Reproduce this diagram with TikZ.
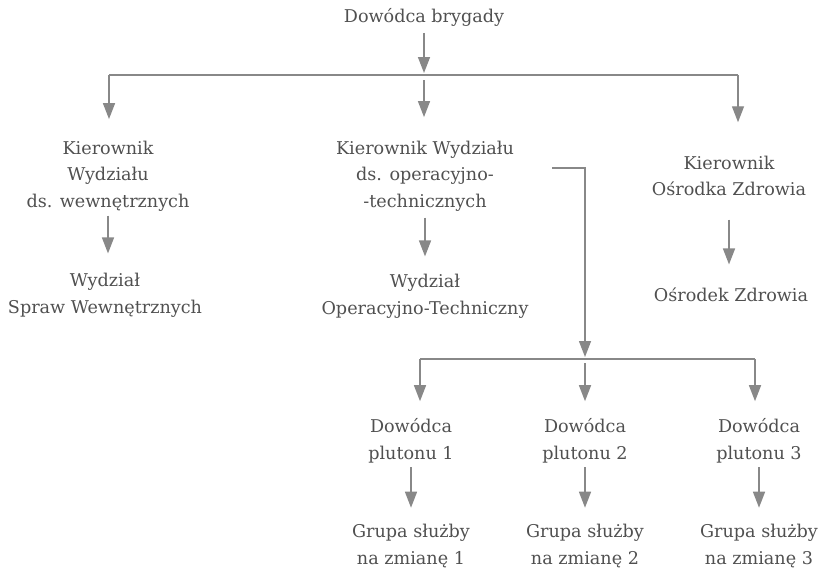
\documentclass[tikz,border=0pt]{standalone}
\usepackage{fontspec}
\setmainfont{DejaVu Serif}
\usetikzlibrary{positioning, arrows.meta}
\definecolor{orgText}{HTML}{505050}
\definecolor{orgLine}{HTML}{888888}

\begin{document}
\begin{tikzpicture}[x=0.75pt, y=-0.75pt,
  unit/.style={align=center, text=orgText, inner sep=0pt, font=\fontsize{13.2}{20}\selectfont},
  link/.style={draw=orgLine, line width=1.1pt},
  arr/.style={link, -{Triangle[length=12pt, width=9pt]}}]
  \useasboundingbox (0,0) rectangle (823,571);

  % dowodca
  \node[unit] (brig) at (424,17) {Dowódca brygady};
  \coordinate (topbar) at (424,75);
  \coordinate (tb1) at (109,75);
  \coordinate (tb3) at (738,75);

  % wydzialy
  \node[unit] (kwsw) at (108,176) {Kierownik\\Wydziału\\ds. wewnętrznych};
  \node[unit] (wsw) at (105,295) {Wydział\\Spraw Wewnętrznych};
  \node[unit] (kwot) at (425,176) {Kierownik Wydziału\\ds. operacyjno-\\-technicznych};
  \node[unit] (wot) at (425,296) {Wydział\\Operacyjno-Techniczny};
  \node[unit] (koz) at (729,176) {Kierownik\\Ośrodka Zdrowia};
  \node[unit] (oz) at (731,295) {Ośrodek Zdrowia};

  \draw[arr, shorten <=5pt, shorten >=1.5pt] (brig) -- (topbar);
  \draw[link] (tb1) -- (tb3);
  \draw[arr, shorten >=16pt] (tb1) -- (tb1 |- kwsw.north);
  \draw[arr, shorten <=3.75pt, shorten >=17.5pt] (topbar) -- (topbar |- kwot.north);
  \draw[arr, shorten >=25pt] (tb3) -- (tb3 |- koz.north);

  \draw[arr, shorten <=3pt, shorten >=14.5pt] (kwsw.south) -- (kwsw.south |- wsw.north);
  \draw[arr, shorten <=4.5pt, shorten >=13pt] (kwot.south) -- (kwot.south |- wot.north);
  \draw[arr, shorten <=17.5pt, shorten >=17.5pt] (koz.south) -- (koz.south |- oz.north);

  % plutony
  \coordinate (otout) at (552,168);
  \coordinate (botbar) at (585,359);
  \coordinate (bb1) at (420,359);
  \coordinate (bb3) at (755,359);
  \draw[arr, shorten >=1.5pt] (otout) -| (botbar);
  \draw[link] (bb1) -- (bb3);
  \foreach \i/\x in {1/411,2/585,3/759} {
    \node[unit] (dp\i) at (\x,441) {Dowódca\\plutonu \i};
    \node[unit] (gs\i) at (\x,546) {Grupa służby\\na zmianę \i};
    \draw[arr, shorten <=3pt, shorten >=12.25pt] (dp\i.south) -- (dp\i.south |- gs\i.north);
  }
  \draw[arr, shorten >=13pt] (bb1) -- (bb1 |- dp1.north);
  \draw[arr, shorten <=3pt, shorten >=13pt] (botbar) -- (botbar |- dp2.north);
  \draw[arr, shorten >=13pt] (bb3) -- (bb3 |- dp3.north);
\end{tikzpicture}
\end{document}
